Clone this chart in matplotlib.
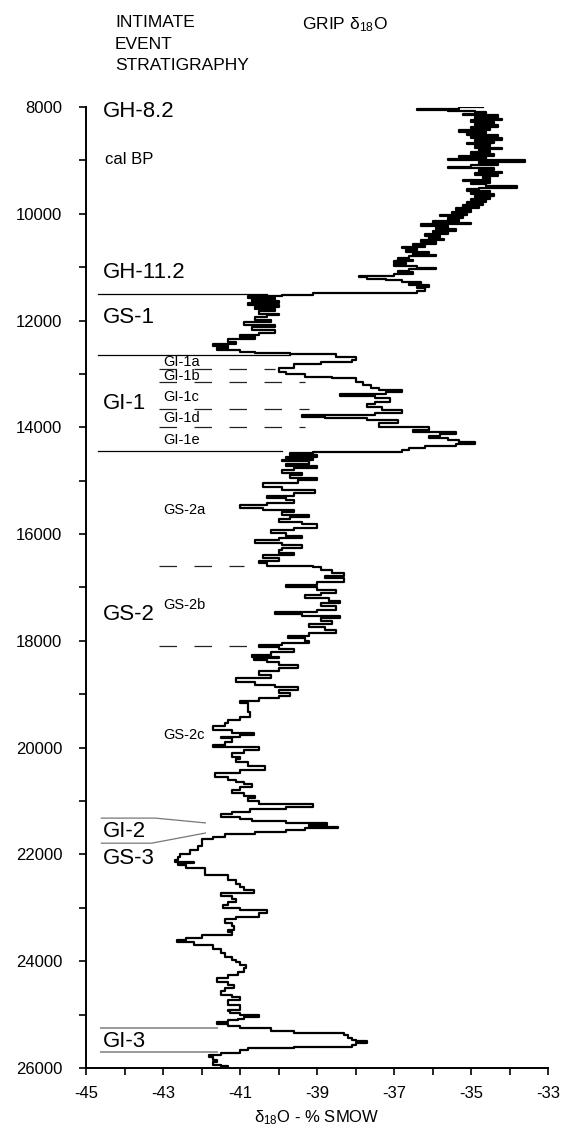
import numpy as np
import matplotlib
matplotlib.use("Agg")
import matplotlib.pyplot as plt
from matplotlib.ticker import MultipleLocator

plt.rcParams['font.family'] = ['Liberation Sans', 'DejaVu Sans']
plt.rcParams['mathtext.fontset'] = 'custom'
plt.rcParams['mathtext.rm'] = 'Liberation Sans'
plt.rcParams['mathtext.it'] = 'Liberation Sans'
plt.rcParams['axes.unicode_minus'] = False

# GRIP d18O record (age in cal BP, d18O in permil)
holo_age = [8000, 8010, 8040, 8060, 8080, 8100, 8130, 8160, 8190, 8220, 8250, 8280, 8310,
            8340, 8370, 8400, 8430, 8460, 8490, 8520, 8550, 8580, 8610, 8640, 8670, 8700,
            8730, 8760, 8790, 8820, 8850, 8880, 8910, 8940, 8970, 9000, 9030, 9060, 9090,
            9120, 9150, 9180, 9210, 9240, 9270, 9300, 9330, 9360, 9390, 9420, 9450, 9480,
            9510, 9540, 9570, 9600, 9630, 9660, 9690, 9720, 9750, 9780, 9810, 9840, 9870,
            9900, 9930, 9960, 9990, 10020, 10050, 10080, 10110, 10140, 10170, 10200, 10230,
            10260, 10290, 10320, 10350, 10380, 10410, 10440, 10470, 10500, 10530, 10560,
            10590, 10620, 10650, 10680, 10710, 10740, 10770, 10800, 10830, 10860, 10890,
            10920, 10950, 10980, 11010, 11040, 11070, 11100, 11130, 11160, 11190, 11220,
            11250, 11280, 11310, 11340, 11370, 11400, 11440, 11480]
holo_d18o = [-34.7, -35.2, -35.3, -36.4, -35.6, -34.9, -34.6, -35.2, -34.3, -34.9, -34.2,
             -35.0, -34.4, -34.9, -34.3, -35.0, -34.5, -35.3, -34.6, -35.1, -34.3, -35.0,
             -34.2, -34.9, -34.4, -35.1, -34.5, -34.9, -34.2, -34.8, -34.5, -35.0, -34.4,
             -35.3, -34.6, -35.6, -33.6, -34.8, -34.3, -35.0, -35.6, -34.4, -34.8, -34.2,
             -34.9, -34.3, -34.7, -34.5, -35.2, -34.5, -35.0, -34.6, -33.8, -34.8, -35.1,
             -34.5, -35.0, -34.4, -34.9, -34.5, -35.0, -34.6, -35.1, -34.7, -35.2, -34.8,
             -35.4, -35.0, -35.5, -35.1, -35.8, -35.2, -35.6, -35.3, -36.0, -35.0, -36.3,
             -35.6, -35.9, -35.4, -36.0, -35.6, -36.2, -35.8, -36.1, -35.7, -36.3, -35.9,
             -36.5, -36.2, -36.8, -36.4, -36.7, -36.1, -36.5, -35.9, -36.6, -36.9, -36.5,
             -37.0, -36.7, -37.0, -36.4, -35.9, -36.6, -36.9, -36.5, -37.0, -37.9, -37.7,
             -37.2, -36.8, -36.3, -36.6, -36.1, -36.4, -36.2, -36.4]

late_age = [11520, 11540, 11570, 11600, 11640, 11670, 11710, 11750, 11790, 11830, 11870,
            11900, 11940, 11990, 12030, 12080, 12120, 12180, 12230, 12270, 12310, 12350,
            12400, 12440, 12470, 12510, 12550, 12590, 12610, 12620, 12680, 12740, 12770,
            12810, 12890, 12960, 13000, 13060, 13080, 13150, 13200, 13260, 13300, 13340,
            13380, 13410, 13460, 13520, 13570, 13620, 13680, 13740, 13770, 13800, 13830,
            13860, 13920, 13990, 14050, 14090, 14130, 14170, 14200, 14240, 14270, 14310,
            14350, 14390, 14430, 14460, 14480]
late_d18o = [-39.1, -39.9, -40.8, -40.1, -40.7, -40.0, -40.8, -40.0, -40.6, -40.1, -40.5,
             -40.0, -40.3, -40.6, -40.2, -40.9, -40.1, -40.7, -40.1, -40.5, -41.0, -40.6,
             -41.3, -41.1, -41.7, -41.3, -41.6, -41.0, -40.6, -39.7, -38.5, -38.0, -38.1,
             -38.9, -39.6, -40.0, -39.8, -39.3, -38.6, -38.0, -37.8, -37.6, -37.4, -36.8,
             -37.2, -38.4, -37.5, -37.1, -37.5, -37.7, -37.3, -36.8, -37.5, -39.4, -38.8,
             -37.7, -36.9, -37.4, -36.1, -36.5, -35.4, -35.8, -36.1, -35.6, -35.3, -34.9,
             -35.4, -36.2, -36.6, -36.8, -39.1]

glac_age = [14520, 14550, 14580, 14610, 14640, 14680, 14720, 14760, 14800, 14850, 14900,
            14950, 14990, 15050, 15120, 15170, 15230, 15280, 15320, 15370, 15420, 15460,
            15510, 15550, 15590, 15640, 15680, 15720, 15770, 15820, 15880, 15930, 15980,
            16030, 16070, 16110, 16160, 16210, 16260, 16300, 16350, 16400, 16450, 16500,
            16540, 16590, 16610, 16670, 16720, 16780, 16830, 16900, 16950, 16990, 17040,
            17100, 17150, 17200, 17250, 17290, 17350, 17420, 17460, 17500, 17530, 17570,
            17620, 17680, 17740, 17790, 17850, 17900, 17950, 18000, 18040, 18080, 18110,
            18160, 18210, 18260, 18300, 18330, 18360, 18400, 18450, 18510, 18570, 18640,
            18700, 18770, 18820, 18860, 18920, 18980, 19030, 19070, 19120, 19160, 19220,
            19260, 19340, 19420, 19480, 19540, 19600, 19670, 19720, 19760, 19800, 19820,
            19900, 19950, 19990, 20040, 20100, 20170, 20220, 20270, 20340, 20420, 20480,
            20550, 20600, 20640, 20690, 20740, 20800, 20850, 20900, 20940, 21000, 21050,
            21110, 21150, 21200, 21250, 21300, 21340, 21370, 21410, 21450, 21480, 21510,
            21550, 21580, 21620, 21670, 21720, 21770]
glac_d18o = [-39.7, -39.0, -39.8, -39.1, -39.9, -39.2, -39.8, -39.0, -39.6, -39.9, -39.4,
             -39.7, -39.0, -39.5, -40.4, -39.9, -39.05, -39.6, -40.3, -39.8, -39.6, -40.3,
             -41.0, -40.4, -39.6, -39.9, -39.2, -39.7, -40.0, -39.4, -39.0, -39.6, -40.2,
             -39.8, -39.4, -40.0, -40.6, -39.9, -39.4, -39.9, -40.0, -39.6, -40.4, -40.0,
             -40.5, -40.3, -39.1, -38.9, -38.6, -38.3, -38.8, -38.3, -39.0, -39.8, -39.0,
             -38.5, -38.9, -39.3, -38.7, -38.4, -38.9, -38.5, -39.0, -40.1, -39.4, -38.4,
             -38.9, -38.6, -39.2, -38.8, -38.5, -39.2, -39.75, -39.3, -39.2, -39.9, -40.5,
             -40.0, -39.6, -40.2, -40.7, -40.0, -40.65, -40.3, -40.0, -39.5, -40.0, -40.5,
             -40.2, -41.1, -40.6, -40.1, -39.5, -40.0, -39.7, -40.0, -40.5, -41.0, -40.8,
             -40.8, -40.8, -40.75, -41.0, -41.3, -41.4, -41.7, -41.2, -40.65, -41.0, -41.5,
             -41.2, -41.4, -41.7, -40.5, -40.9, -41.2, -41.0, -41.1, -40.8, -40.35, -41.0,
             -41.65, -41.3, -41.1, -40.9, -40.7, -41.0, -41.2, -40.9, -40.6, -40.8, -40.5,
             -39.1, -39.8, -40.75, -41.2, -41.5, -41.0, -40.7, -39.8, -38.75, -39.2, -38.45,
             -39.3, -39.8, -40.6, -41.4, -41.7, -42.0]

gs3_age = [21850, 21920, 21990, 22050, 22100, 22140, 22170, 22200, 22250, 22330, 22380,
           22440, 22480, 22550, 22610, 22660, 22720, 22780, 22840, 22890, 22950, 23000,
           23050, 23100, 23170, 23210, 23280, 23340, 23410, 23460, 23510, 23560, 23600,
           23640, 23700, 23770, 23850, 23920, 23970, 24010, 24070, 24130, 24200, 24260,
           24320, 24390, 24440, 24500, 24560, 24630, 24680, 24730, 24780, 24820, 24860,
           24910, 24940, 24970, 25010, 25050, 25080, 25100, 25140, 25180, 25220, 25250,
           25310, 25350, 25380, 25430, 25470, 25500, 25530, 25570, 25610, 25630, 25660,
           25720, 25760, 25800, 25850, 25890, 25940, 25970, 26000]
gs3_d18o = [-42.0, -42.1, -42.3, -42.55, -42.6, -42.7, -42.2, -42.6, -42.4, -41.9, -41.9,
            -41.3, -41.3, -41.1, -41.0, -40.9, -40.65, -41.5, -41.2, -41.1, -41.3, -41.45,
            -41.0, -40.3, -40.5, -41.1, -41.4, -41.2, -41.15, -41.3, -41.2, -42.0, -42.4,
            -42.65, -42.2, -41.7, -41.5, -41.4, -41.2, -41.1, -41.0, -40.85, -40.9, -41.05,
            -41.3, -41.6, -41.3, -41.15, -41.4, -41.5, -41.2, -41.0, -41.3, -41.3, -41.0,
            -41.0, -41.3, -41.25, -41.0, -40.5, -40.9, -41.05, -41.3, -41.6, -41.3, -41.0,
            -40.2, -39.6, -38.3, -38.2, -38.1, -38.0, -37.7, -38.0, -38.1, -39.6, -40.8,
            -41.0, -41.5, -41.8, -41.7, -41.6, -41.7, -41.5, -41.3]

# event stratigraphy boundaries
solid_ages = [11500, 12650, 14450]
solid_ends = [-40.3, -39.7, -39.9]
dashed_ages = [12900, 13150, 13650, 14000, 16600, 18100]
dashed_ends = [-40.1, -39.3, -39.2, -39.3, -40.9, -40.4]
gi3_ages = [25250, 25700]

big_labels = ['GH-8.2', 'GH-11.2', 'GS-1', 'GI-1', 'GS-2', 'GI-2', 'GS-3', 'GI-3']
big_ages = [8090, 11110, 11950, 13560, 17510, 21580, 22070, 25510]
small_labels = ['GI-1a', 'GI-1b', 'GI-1c', 'GI-1d', 'GI-1e', 'GS-2a', 'GS-2b', 'GS-2c']
small_ages = [12775, 13040, 13430, 13830, 14240, 15550, 17330, 19760]

age = np.array(holo_age + late_age + glac_age + gs3_age)
d18o = np.array(holo_d18o + late_d18o + glac_d18o + gs3_d18o)

fig = plt.figure(figsize=(5.63, 11.33), dpi=100)
ax = fig.add_axes([0.1528, 0.0574, 0.8206, 0.8482])

ax.plot(d18o, age, color='black', lw=1.6, drawstyle='steps-post')

for a, e in zip(solid_ages, solid_ends):
    ax.plot([-44.7, e], [a, a], color='black', lw=0.9)
for a, e in zip(dashed_ages, dashed_ends):
    ax.plot([-43.1, e], [a, a], color='#222222', lw=0.9, dashes=(14, 14))
# GI-2 wedge lines
ax.plot([-44.6, -43.2, -41.9], [21320, 21320, 21410], color='#777777', lw=0.9)
ax.plot([-44.6, -43.3, -41.9], [21790, 21790, 21600], color='#777777', lw=0.9)
for a in gi3_ages:
    ax.plot([-44.6, -41.6], [a, a], color='#999999', lw=1.4)

for lab, a in zip(big_labels, big_ages):
    ax.text(-44.55, a, lab, fontsize=16, va='center', ha='left')
for lab, a in zip(small_labels, small_ages):
    ax.text(-43.0, a, lab, fontsize=10.5, va='center', ha='left')
ax.text(-44.5, 8990, 'cal BP', fontsize=12, va='center', ha='left')

ax.set_xlim(-45, -33)
ax.set_ylim(26000, 8000)
ax.set_xticks([-45, -43, -41, -39, -37, -35, -33])
ax.xaxis.set_minor_locator(MultipleLocator(1))
ax.yaxis.set_major_locator(MultipleLocator(2000))
ax.yaxis.set_minor_locator(MultipleLocator(1000))
ax.tick_params(which='both', direction='out', length=5, width=1.2, labelsize=12)
ax.tick_params(axis='y', pad=12)
ax.tick_params(axis='x', pad=8)
for s in ['top', 'right']:
    ax.spines[s].set_visible(False)
for s in ['left', 'bottom']:
    ax.spines[s].set_linewidth(1.4)

ax.set_xlabel(r'δ$_{18}$O - % SMOW', fontsize=12, labelpad=5)

fig.text(115 / 563, 1 - 15 / 1133, 'INTIMATE\nEVENT\nSTRATIGRAPHY', fontsize=12.5,
         va='top', ha='left', linespacing=1.55)
fig.text(302 / 563, 1 - 15 / 1133, r'GRIP δ$_{18}$O', fontsize=12.5, va='top', ha='left')

fig.savefig('out.png', dpi=100)
